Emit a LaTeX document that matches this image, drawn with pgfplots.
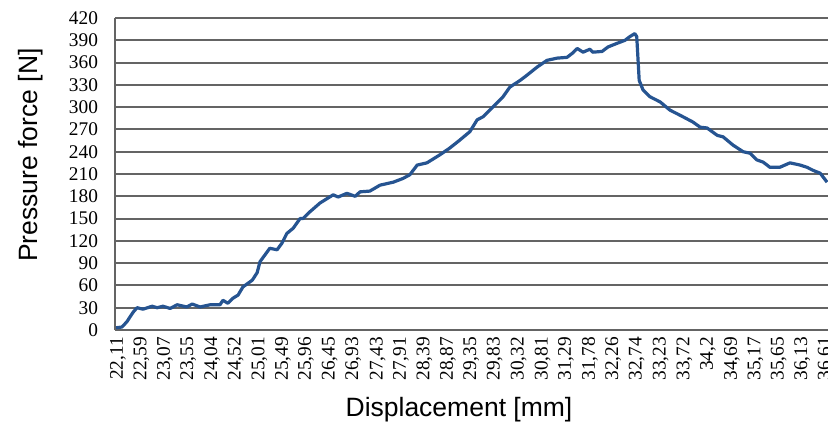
\documentclass[border=0pt]{standalone}
\usepackage{fontspec}
\setmainfont{Liberation Serif}
\newfontfamily\arialfont{Liberation Sans}
\usepackage{pgfplots}
\pgfplotsset{compat=1.18}
\definecolor{curve}{RGB}{38,84,145}
\definecolor{gridc}{RGB}{100,100,100}
\begin{document}
\begin{tikzpicture}
\begin{axis}[
  at={(0,0)}, anchor=south west,
  scale only axis,
  width=362.5bp, height=156bp,
  xmin=22.048, xmax=36.905,
  ymin=0, ymax=420,
  enlargelimits=false,
  axis x line=bottom, axis y line=left,
  axis line style={-, gridc, line width=1bp},
  ytick={0,30,...,420},
  ymajorgrids,
  major grid style={gridc, line width=1bp},
  major tick length=0pt,
  xtick={22.11,22.59,23.07,23.55,24.04,24.52,25.01,25.49,25.96,26.45,26.93,27.43,27.91,28.39,28.87,29.35,29.83,30.32,30.81,31.29,31.78,32.26,32.74,33.23,33.72,34.2,34.69,35.17,35.65,36.13,36.61},
  xticklabels={{22,11},{22,59},{23,07},{23,55},{24,04},{24,52},{25,01},{25,49},{25,96},{26,45},{26,93},{27,43},{27,91},{28,39},{28,87},{29,35},{29,83},{30,32},{30,81},{31,29},{31,78},{32,26},{32,74},{33,23},{33,72},{34,2},{34,69},{35,17},{35,65},{36,13},{36,61}},
  /pgf/number format/assume math mode=true,
  ticklabel style={font=\fontsize{9.7}{11}\selectfont},
  xticklabel style={rotate=90, anchor=east},
  yticklabel style={xshift=-5bp},
  xlabel={Displacement [mm]},
  ylabel={Pressure force [N]},
  label style={font=\arialfont\fontsize{13.3}{15}\selectfont},
  xlabel style={at={(axis description cs:0.4745,-0.256)}, anchor=center},
  ylabel style={at={(axis description cs:-0.117,0.561)}, anchor=center},
]
\addplot[curve, line width=1.6bp, line join=round, mark=none] coordinates {
(22.07,3)(22.19,4)(22.29,11)(22.42,24)(22.50,30)(22.62,28)(22.81,32)(22.91,30)
(23.03,32)(23.18,29)(23.32,34)(23.52,31)(23.63,35)(23.79,31)(24.00,34)(24.20,34)
(24.26,40)(24.36,36)(24.47,43)(24.57,47)(24.67,58)(24.86,67)(24.96,77)(25.02,92)
(25.12,101)(25.22,110)(25.37,108)(25.47,117)(25.57,130)(25.70,137)(25.84,150)
(25.90,150)(26.04,159)(26.25,171)(26.52,182)(26.62,179)(26.80,184)(26.97,180)
(27.07,186)(27.27,187)(27.48,195)(27.75,199)(27.95,204)(28.09,209)(28.24,222)
(28.44,225)(28.71,236)(28.91,245)(29.12,256)(29.32,267)(29.47,283)(29.59,287)
(29.79,300)(30.00,314)(30.14,327)(30.35,336)(30.49,343)(30.70,354)(30.90,363)
(31.11,366)(31.31,367)(31.43,373)(31.52,379)(31.64,374)(31.78,378)(31.84,374)
(32.03,375)(32.15,381)(32.34,386)(32.50,390)(32.60,395)(32.70,399)(32.74,395)
(32.79,336)(32.87,323)(33.01,314)(33.22,307)(33.42,296)(33.63,289)(33.89,280)
(34.04,273)(34.18,272)(34.39,262)(34.51,260)(34.71,249)(34.92,240)(35.06,238)
(35.20,229)(35.33,226)(35.47,219)(35.67,219)(35.88,225)(36.09,222)(36.23,219)
(36.35,215)(36.50,211)(36.64,199)
};
\end{axis}
\pgfresetboundingbox
\path[use as bounding box] (-57.5bp,-53bp) rectangle (356.5bp,165bp);
\end{tikzpicture}
\end{document}
